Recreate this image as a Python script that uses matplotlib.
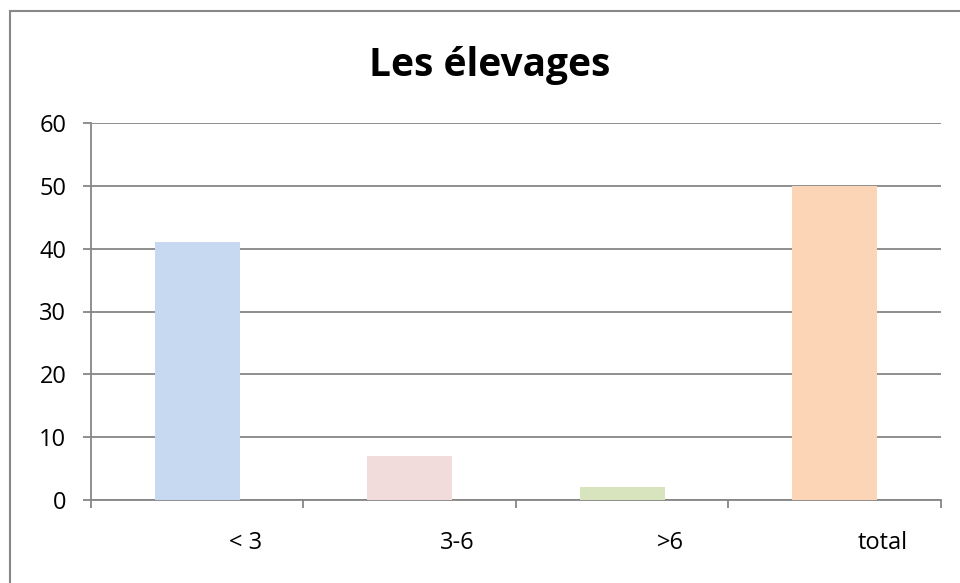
import matplotlib.pyplot as plt
import matplotlib.transforms as mtransforms
from matplotlib.patches import Rectangle
import numpy as np

categories = ["< 3", "3-6", ">6", "total"]
values = [41, 7, 2, 50]
colors = ["#C6D9F1", "#F2DCDB", "#D7E4BD", "#FBD5B5"]
y_ticks = [0, 10, 20, 30, 40, 50, 60]

plt.rcParams['font.family'] = ['Open Sans', 'DejaVu Sans']

fig = plt.figure(figsize=(9.6, 5.83), dpi=100)
W, H = 960, 583

# chart frame (only the top and left edges fall inside the image)
fig.patches.append(Rectangle((10 / W, -0.1), 1.2, (583 - 11) / H + 0.1,
                             transform=fig.transFigure, fill=False,
                             edgecolor="#888888", linewidth=1.5))

ax = fig.add_axes([91 / W, 83 / H, (940.7 - 91) / W, (500 - 123) / H])

x = np.arange(len(categories))
ax.bar(x, values, width=0.4, color=colors, zorder=3)

ax.set_xlim(-0.5, len(categories) - 0.5)
ax.set_ylim(0, 60)
ax.set_yticks(y_ticks)
ax.grid(axis="y", color="#868686", linewidth=1.3, zorder=0)
ax.set_axisbelow(True)

for side in ["top", "right"]:
    ax.spines[side].set_visible(False)
for side in ["left", "bottom"]:
    ax.spines[side].set_color("#868686")
    ax.spines[side].set_linewidth(1.3)

# category boundaries carry the tick marks, labels sit on minor ticks
ax.set_xticks(np.arange(-0.5, len(categories), 1.0))
ax.set_xticklabels([])
ax.set_xticks(x, minor=True)
ax.set_xticklabels(categories, minor=True, fontsize=17)
ax.tick_params(axis="x", which="major", direction="out", length=5.8,
               width=1.3, color="#868686")
ax.tick_params(axis="x", which="minor", length=0, pad=22)
ax.tick_params(axis="y", direction="out", length=5.8, width=1.3,
               color="#868686", labelsize=17, pad=12)

shift = mtransforms.ScaledTranslation(0.48, 0, fig.dpi_scale_trans)
for lbl in ax.get_xticklabels(minor=True):
    lbl.set_transform(lbl.get_transform() + shift)

fig.text(490 / W, (583 - 76) / H, "Les élevages", ha="center",
         va="baseline", fontsize=28, fontweight="bold")

fig.savefig("out.png", dpi=100)
